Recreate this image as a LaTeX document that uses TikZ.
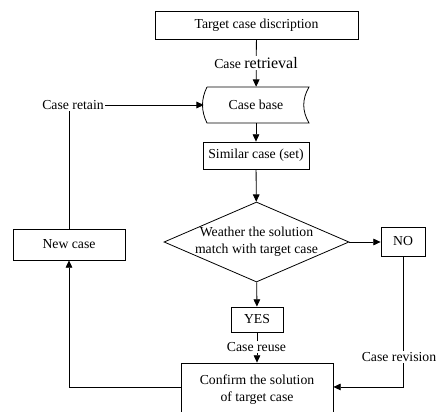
\documentclass[tikz,border=0pt]{standalone}
\usepackage{fontspec}
\setmainfont{Liberation Serif}
\usetikzlibrary{arrows.meta,shapes.geometric}
\begin{document}
\begin{tikzpicture}[x=0.75pt,y=-0.75pt, font=\fontsize{10.3}{12.75}\selectfont,
 box/.style={draw, line width=0.6pt, inner sep=0pt, align=center},
 conn/.style={line width=0.6pt},
 arr/.style={conn, -{Triangle[length=5.5pt,width=5pt]}},
 lbl/.style={fill=white, inner sep=1pt}]
\useasboundingbox (0,0) rectangle (439,411);
% nodes
\node[box, minimum width=152.25pt, minimum height=21pt] (target) at (256.5,25) {Target case discription};
\node[inner sep=0pt, minimum width=78pt, minimum height=27pt] (cb) at (256,105) {Case base};
\draw[conn] (207,87) -- (309,87) .. controls (302,99) and (302,111) .. (309,123) -- (207,123) .. controls (201,111) and (201,99) .. (207,87);
\node[box, minimum width=79.5pt, minimum height=20.25pt] (sim) at (256,155.5) {Similar case (set)};
\node[draw, line width=0.6pt, diamond, inner sep=0pt, minimum width=138.75pt, minimum height=60pt] (dec) at (256.5,242) {};
\node[align=center, inner sep=0pt] (dectext) at (256.5,242) {Weather the solution\\match with target case};
\node[box, minimum width=33pt, minimum height=21.75pt] (no) at (403,241.5) {NO};
\node[box, minimum width=84pt, minimum height=23.25pt] (new) at (69,244.5) {New case};
\node[box, minimum width=39pt, minimum height=18.75pt] (yes) at (257,319.5) {YES};
\node[box, minimum width=114pt, minimum height=39.75pt] (conf) at (257,389.5) {Confirm the solution\\of target case};
% connectors
\draw[arr] (target) -- (cb);
\draw[arr] (cb) -- (sim);
\draw[arr] (sim) -- (dec);
\draw[arr] (dec.east) -- (dec.east -| no.west);
\draw[arr] (dec) -- (yes);
\draw[arr] (yes.south) -- (yes.south |- conf.north);
\draw[arr] (no.south) |- ([yshift=1.9pt]conf.east);
\draw[arr] ([yshift=1.9pt]conf.west) -| (new.south);
% labels
\node[lbl] (retr) at (256,63) {Case {\fontsize{12}{14}\selectfont retrieval}};
\node[lbl] (reuse) at (256.5,347) {Case reuse};
\node[lbl] (revis) at (399,357) {Case revision};
\node[inner sep=1pt] (retain) at (73,105) {Case retain};
\draw[conn] (new.north) -- (new.north |- retain.south);
\draw[arr] (retain.east) -- (cb.west);
\end{tikzpicture}
\end{document}
